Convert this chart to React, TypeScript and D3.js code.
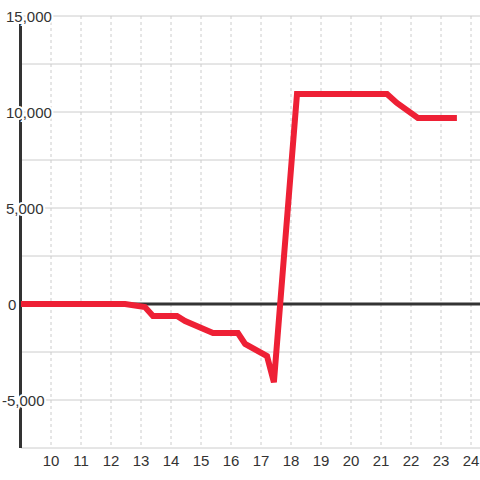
import React from "react";
import * as d3 from "d3";

const hours = [9.0, 12.47, 13.13, 13.4, 14.2, 14.47, 15.4, 16.23, 16.47, 17.2, 17.43, 18.2, 21.2, 21.53, 22.23, 23.53];
const values = [0, 0, -160, -625, -625, -885, -1510, -1510, -2080, -2710, -4080, 10940, 10940, 10470, 9690, 9690];
const xTicks = [10, 11, 12, 13, 14, 15, 16, 17, 18, 19, 20, 21, 22, 23, 24];
const yGrid = [15000, 12500, 10000, 7500, 5000, 2500, 0, -2500, -5000, -7500];
const yLabels = [15000, 10000, 5000, 0, -5000];

const W = 480;
const H = 480;

export default function App() {
  const x = d3.scaleLinear().domain([9, 24.3]).range([21, 480]);
  const y = d3.scaleLinear().domain([-7500, 15000]).range([448, 16]);
  const line = d3
    .line<number>()
    .x((_, i) => x(hours[i]))
    .y((d) => y(d));
  const fmt = d3.format(",");
  const font = "'Liberation Sans', Arial, sans-serif";

  return (
    <svg
      width={W}
      height={H}
      style={{ position: "absolute", left: 0, top: 0, background: "#fff" }}
      fontFamily={font}
    >
      {yGrid.map((v) => (
        <line key={"h" + v} x1={21} x2={480} y1={y(v)} y2={y(v)} stroke="#cccccc" strokeWidth={1} />
      ))}
      {xTicks.map((t) => (
        <line
          key={"v" + t}
          x1={x(t)}
          x2={x(t)}
          y1={y(15000)}
          y2={y(-7500)}
          stroke="#cccccc"
          strokeWidth={1}
          strokeDasharray="3,3"
        />
      ))}
      <line x1={21} x2={480} y1={y(0)} y2={y(0)} stroke="#333333" strokeWidth={3} />
      <line x1={20.5} x2={20.5} y1={24} y2={y(-7500)} stroke="#333333" strokeWidth={3} />
      <path
        d={line(values) || ""}
        fill="none"
        stroke="#ee2035"
        strokeWidth={6}
        strokeLinejoin="miter"
        strokeLinecap="butt"
      />
      {yLabels.map((v) => (
        <text
          key={"yl" + v}
          x={v < 0 ? 2 : v === 0 ? 8 : 6}
          y={y(v) + 6}
          fontSize={15}
          fill="#333333"
          stroke="#ffffff"
          strokeWidth={4}
          paintOrder="stroke"
          textAnchor="start"
        >
          {fmt(v).replace("−", "-")}
        </text>
      ))}
      {xTicks.map((t) => (
        <text key={"xl" + t} x={x(t)} y={466} fontSize={15} fill="#333333" textAnchor="middle">
          {t}
        </text>
      ))}
    </svg>
  );
}
